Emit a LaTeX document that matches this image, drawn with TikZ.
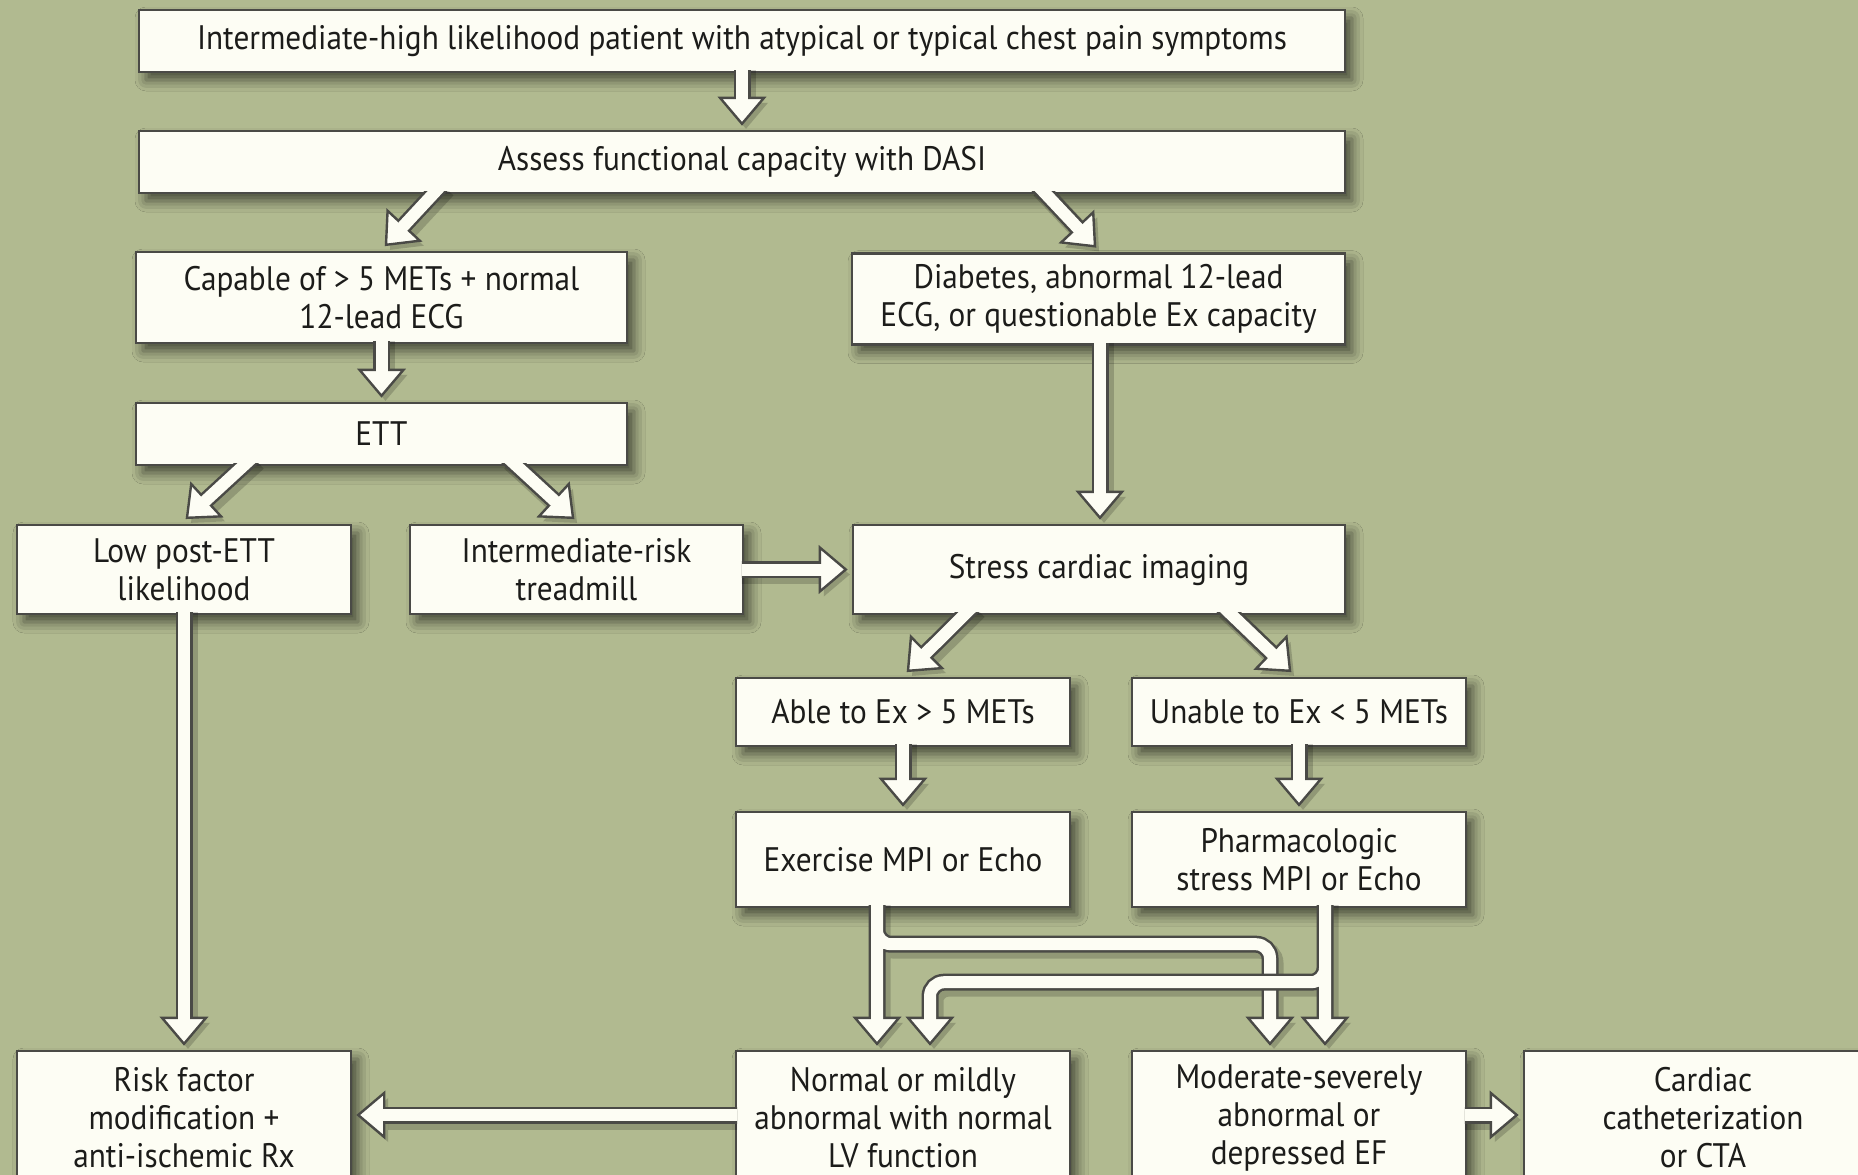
\documentclass[tikz,border=0pt]{standalone}
\usepackage{fontspec}
\setmainfont{PT Sans}[FakeStretch=0.92]
\usetikzlibrary{calc,shadows.blur}
\definecolor{bgc}{HTML}{B1BA90}
\definecolor{boxfill}{HTML}{FDFDF4}
\definecolor{edgec}{HTML}{4A4A46}
\definecolor{txtc}{HTML}{1C1C1A}
\tikzset{
  box/.style={draw=edgec, line width=2.4pt, fill=boxfill, inner sep=0pt,
    align=center, text=txtc, font=\fontsize{34}{38}\selectfont,
    blur shadow={shadow xshift=7pt, shadow yshift=-8pt, shadow blur radius=11pt, shadow opacity=60}},
  shaftout/.style={draw=edgec, line width=17pt},
  shaftin/.style={draw=boxfill, line width=12pt},
  headst/.style={draw=edgec, fill=boxfill, line width=2.4pt, line join=miter},
  arrshadow/.style={draw=black, opacity=0.18, line width=19pt, transform canvas={xshift=4pt,yshift=-5pt}},
  headshadow/.style={fill=black, opacity=0.18, transform canvas={xshift=4pt,yshift=-5pt}},
}
% straight fat arrow: start on box edge, tip, clip corner offsets
\newcommand\fatarrow[4]{%
  \coordinate (fa-s0) at #1;
  \coordinate (fa-t) at #2;
  \coordinate (fa-s) at ($(fa-s0)!-14pt!(fa-t)$);
  \coordinate (fa-b) at ($(fa-t)!26pt!(fa-s0)$);
  \coordinate (fa-c) at ($(fa-b)!2pt!(fa-t)$);
  \coordinate (fa-l) at ($(fa-b)!22pt!90:(fa-t)$);
  \coordinate (fa-r) at ($(fa-b)!22pt!-90:(fa-t)$);
  \begin{scope}
    \clip ($(fa-s0)+#3$) rectangle ($(fa-t)+#4$);
    \draw[arrshadow] (fa-s) -- (fa-b);
    \fill[headshadow] (fa-l) -- (fa-t) -- (fa-r) -- cycle;
    \draw[shaftout] (fa-s) -- (fa-b);
    \filldraw[headst] (fa-l) -- (fa-t) -- (fa-r) -- cycle;
    \draw[shaftin] (fa-s) -- (fa-c);
  \end{scope}
}
\newcommand\headpath[1]{($(#1)+(-22,-26)$) -- (#1) -- ($(#1)+(22,-26)$) -- cycle}
\begin{document}
\begin{tikzpicture}[x=1pt,y=-1pt]
\useasboundingbox (0,0) rectangle (1858,1175);
\clip (0,0) rectangle (1858,1175);
\fill[bgc] (0,0) rectangle (1858,1175);

% boxes
\node[box, minimum width=1206pt, minimum height=62pt] (top) at (742,41)
  {Intermediate-high likelihood patient with atypical or typical chest pain symptoms};
\node[box, minimum width=1206pt, minimum height=62pt] (dasi) at (742,162)
  {Assess functional capacity with DASI};
\node[box, minimum width=491pt, minimum height=91pt] (cap) at (381.5,297.5)
  {Capable of > 5 METs + normal\\12-lead ECG};
\node[box, minimum width=493pt, minimum height=91pt] (dia) at (1098.5,299)
  {Diabetes, abnormal 12-lead\\ECG, or questionable Ex capacity};
\node[box, minimum width=491pt, minimum height=62pt] (ett) at (381.5,434) {ETT};
\node[box, minimum width=334pt, minimum height=89pt] (low) at (184,569.5)
  {Low post-ETT\\likelihood};
\node[box, minimum width=333pt, minimum height=89pt] (int) at (576.5,569.5)
  {Intermediate-risk\\treadmill};
\node[box, minimum width=492pt, minimum height=89pt] (str) at (1099,569.5)
  {Stress cardiac imaging};
\node[box, minimum width=334pt, minimum height=68pt] (able) at (903,712)
  {Able to Ex > 5 METs};
\node[box, minimum width=334pt, minimum height=68pt] (un) at (1299,712)
  {Unable to Ex < 5 METs};
\node[box, minimum width=334pt, minimum height=95pt] (ex) at (903,859.5)
  {Exercise MPI or Echo};
\node[box, minimum width=334pt, minimum height=95pt] (ph) at (1299,859.5)
  {Pharmacologic\\stress MPI or Echo};
\node[box, minimum width=334pt, minimum height=134pt] (risk) at (184,1118)
  {Risk factor\\modification +\\anti-ischemic Rx};
\node[box, minimum width=334pt, minimum height=134pt] (nor) at (903,1118)
  {Normal or mildly\\abnormal with normal\\LV function};
\node[box, minimum width=334pt, minimum height=134pt] (mod) at (1299,1118)
  {Moderate-severely\\abnormal or\\depressed EF};
\node[box, minimum width=358pt, minimum height=134pt] (cath) at (1703,1118)
  {Cardiac\\catheterization\\or CTA};

% straight connectors
\fatarrow{(top.south)}{($(top.south |- dasi.north)+(0,-6)$)}{(-100,-2.4)}{(100,100)}
\fatarrow{($(dasi.south)+(-309,0)$)}{($(cap.north)+(4.5,-6)$)}{(-100,-2.4)}{(100,100)}
\fatarrow{($(dasi.south)+(304,0)$)}{($(dia.north)+(-3.5,-6)$)}{(-100,-2.4)}{(100,100)}
\fatarrow{(cap.south)}{($(cap.south |- ett.north)+(0,-6)$)}{(-100,-2.4)}{(100,100)}
\fatarrow{($(ett.south)+(-138.5,0)$)}{($(low.north)+(3,-6)$)}{(-100,-2.4)}{(100,100)}
\fatarrow{($(ett.south)+(135.5,0)$)}{($(int.north)+(-3.5,-6)$)}{(-100,-2.4)}{(100,100)}
\fatarrow{($(dia.south)+(1.5,0)$)}{($(str.north)+(1,-6)$)}{(-100,-2.4)}{(100,100)}
\fatarrow{(int.east)}{($(str.west)+(-6,0)$)}{(-2.4,-100)}{(100,100)}
\fatarrow{($(str.south)+(-135,0)$)}{($(able.north)+(5,-6)$)}{(-100,-2.4)}{(100,100)}
\fatarrow{($(str.south)+(133,0)$)}{($(un.north)+(-9,-6)$)}{(-100,-2.4)}{(100,100)}
\fatarrow{(able.south)}{($(able.south |- ex.north)+(0,-6)$)}{(-100,-2.4)}{(100,100)}
\fatarrow{(un.south)}{($(un.south |- ph.north)+(0,-6)$)}{(-100,-2.4)}{(100,100)}
\fatarrow{(low.south)}{($(low.south |- risk.north)+(0,-6)$)}{(-100,-2.4)}{(100,100)}
\fatarrow{($(nor.west)+(0,-3)$)}{($(risk.east)+(6,-3)$)}{(2.4,-100)}{(-100,100)}
\fatarrow{($(mod.east)+(0,-3)$)}{($(cath.west)+(-6,-3)$)}{(-2.4,-100)}{(100,100)}

% bent connectors from the imaging results
\coordinate (s16) at ($(ex.south)+(-26,0)$);
\coordinate (s18) at ($(ph.south)+(26,0)$);
\coordinate (s16e) at ($(s16)+(0,-14)$);
\coordinate (s18e) at ($(s18)+(0,-14)$);
\coordinate (h1) at ($(s16)+(0,36)$);
\coordinate (h2) at ($(s18)+(0,74)$);
\coordinate (t16) at ($(nor.north)+(-26,-6)$);
\coordinate (t17) at ($(mod.north)+(-29,-6)$);
\coordinate (t18) at ($(mod.north)+(26,-6)$);
\coordinate (t19) at ($(nor.north)+(27,-6)$);
\foreach \k in {16,17,18,19}{
  \coordinate (b\k) at ($(t\k)+(0,-26)$);
  \coordinate (c\k) at ($(t\k)+(0,-24)$);
}
\begin{scope}
  \clip ($(ex.south west)+(-60,-2.4)$) rectangle ($(mod.north east)+(60,0)$);
  \draw[arrshadow, rounded corners=14pt]
    (s16e) -- (b16) (s16e) -- (h1) -| (b17)
    (s18e) -- (b18) (s18e) -- (h2) -| (b19);
  \fill[headshadow] \headpath{t16} \headpath{t17} \headpath{t18} \headpath{t19};
  % Exercise MPI group
  \draw[shaftout, rounded corners=14pt] (s16e) -- (b16) (s16e) -- (h1) -| (b17);
  \filldraw[headst] \headpath{t16};
  \filldraw[headst] \headpath{t17};
  \draw[shaftin, rounded corners=14pt] (s16e) -- (c16) (s16e) -- (h1) -| (c17);
  % Pharmacologic group
  \draw[shaftout, rounded corners=14pt] (s18e) -- (b18) (s18e) -- (h2) -| (b19);
  \filldraw[headst] \headpath{t18};
  \filldraw[headst] \headpath{t19};
  \draw[shaftin, rounded corners=14pt] (s18e) -- (c18) (s18e) -- (h2) -| (c19);
\end{scope}
\end{tikzpicture}
\end{document}
